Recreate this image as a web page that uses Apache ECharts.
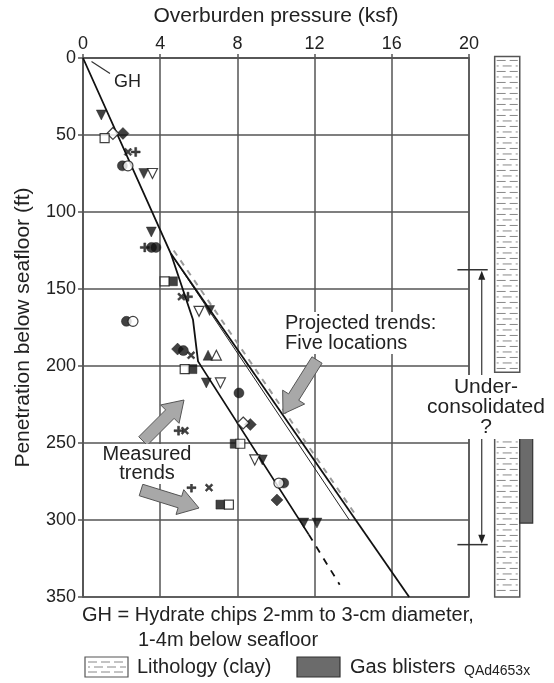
<!DOCTYPE html>
<html>
<head>
<meta charset="utf-8">
<title>Overburden pressure vs penetration</title>
<script src="https://cdn.jsdelivr.net/npm/echarts@6/dist/echarts.min.js"></script>
<style>
  html, body { margin: 0; padding: 0; background: #fff; }
  #chart { width: 554px; height: 683px; }
</style>
</head>
<body>
<div id="chart"></div>
<script>
// --- data (x = overburden pressure ksf, y = penetration ft) ---
const filledDownTri = [[0.95, 37], [3.15, 75], [3.54, 113], [6.56, 164], [6.39, 211], [9.29, 261], [11.44, 302], [12.12, 302]];
const openDownTri = [[3.6, 75], [6.01, 164.5], [7.12, 211], [8.9, 261]];
const filledUpTri = [[6.48, 193]];
const openUpTri = [[6.91, 193]];
const filledDiamond = [[2.07, 49], [4.9, 189], [8.67, 238], [10.05, 287]];
const openDiamond = [[1.55, 49], [8.3, 237]];
const filledSquare = [[4.66, 145], [5.67, 202], [7.86, 250.5], [7.12, 290]];
const openSquare = [[1.12, 52], [4.23, 145], [5.27, 202], [8.15, 250.5], [7.56, 290]];
const filledCircle = [[2.04, 70], [3.55, 123], [3.78, 123], [2.25, 171], [5.2, 190], [8.08, 217.5], [10.4, 276]];
const openCircle = [[2.33, 70], [2.59, 171], [10.15, 276]];
const plusMarks = [[2.73, 61], [3.2, 123], [5.44, 155], [4.95, 242], [5.62, 279]];
const crossMarks = [[2.33, 61], [5.1, 155], [5.6, 193], [5.28, 242], [6.53, 279]];

const measuredTrend = [[0, 0], [4.55, 127], [5.7, 170], [5.96, 197], [11.7, 309.5]];
const measuredExtension = [[11.7, 309.5], [13.3, 342]];
const projectedMain = [[4.55, 127], [16.9, 350]];
const projectedShort = [[4.55, 127], [13.8, 300]];
const projectedGray = [[4.7, 125], [14.2, 298]];

const lithologyIntervals = [[-1, 204], [236, 350]];
const gasBlisterIntervals = [[234.5, 302]];
const underConsolidated = [[137.5, 316]];

const pressureAxis = { min: 0, max: 20, interval: 4 };
const depthAxis = { min: 0, max: 350, interval: 50 };

// --- layout constants ---
const FONT = "'Liberation Sans', Arial, sans-serif";
const INK = '#222';
const GRID_C = '#555';
const LITH_X = [21.33, 22.63];
const GAS_X = [22.63, 23.3];
const BRACKET_X = [19.4, 20.97, 20.66];

const chart = echarts.init(document.getElementById('chart'));

const plusPath = 'path://M3.5,0H5.5V3.5H9V5.5H5.5V9H3.5V5.5H0V3.5H3.5Z';

function marks(data, symbol, filled, size, rotate) {
  return {
    type: 'scatter',
    data: data,
    symbol: symbol,
    symbolSize: size,
    symbolRotate: rotate || 0,
    z: 5,
    itemStyle: filled
      ? { color: '#111', borderColor: '#111', borderWidth: 0.5 }
      : { color: '#fff', borderColor: '#111', borderWidth: 1.2 }
  };
}

function trend(data, color, width, type) {
  return {
    type: 'line',
    data: data,
    showSymbol: false,
    symbol: 'none',
    z: 3,
    lineStyle: { color: color, width: width, type: type || 'solid' }
  };
}

function renderLithology(params, api) {
  const p0 = api.coord([LITH_X[0], api.value(0)]);
  const p1 = api.coord([LITH_X[1], api.value(1)]);
  const kids = [{
    type: 'rect',
    shape: { x: p0[0], y: p0[1], width: p1[0] - p0[0], height: p1[1] - p0[1] },
    style: { fill: '#fff', stroke: GRID_C, lineWidth: 1.5 }
  }];
  let i = 0;
  for (let y = p0[1] + 4; y < p1[1] - 2; y += 5.5, i++) {
    kids.push({
      type: 'line',
      shape: { x1: p0[0] + 2, y1: y, x2: p1[0] - 2, y2: y },
      style: { stroke: '#888', lineWidth: 1, lineDash: [9, 4], lineDashOffset: i % 2 ? 7 : 0 }
    });
  }
  return { type: 'group', children: kids };
}

function renderGas(params, api) {
  const p0 = api.coord([GAS_X[0], api.value(0)]);
  const p1 = api.coord([GAS_X[1], api.value(1)]);
  return {
    type: 'rect',
    shape: { x: p0[0], y: p0[1], width: p1[0] - p0[0], height: p1[1] - p0[1] },
    style: { fill: '#6b6b6b', stroke: '#333', lineWidth: 1.2 }
  };
}

function renderBracket(params, api) {
  const t = api.coord([BRACKET_X[0], api.value(0)]);
  const b = api.coord([BRACKET_X[1], api.value(1)]);
  const xa = api.coord([BRACKET_X[2], 0])[0];
  const st = { stroke: '#333', lineWidth: 1.5 };
  return {
    type: 'group',
    children: [
      { type: 'line', shape: { x1: t[0], y1: t[1], x2: b[0], y2: t[1] }, style: st },
      { type: 'line', shape: { x1: t[0], y1: b[1], x2: b[0], y2: b[1] }, style: st },
      { type: 'line', shape: { x1: xa, y1: t[1] + 6, x2: xa, y2: b[1] - 6 }, style: { stroke: '#333', lineWidth: 1.2 } },
      { type: 'polygon', shape: { points: [[xa, t[1] + 1], [xa - 3.5, t[1] + 10], [xa + 3.5, t[1] + 10]] }, style: { fill: '#222' } },
      { type: 'polygon', shape: { points: [[xa, b[1] - 1], [xa - 3.5, b[1] - 10], [xa + 3.5, b[1] - 10]] }, style: { fill: '#222' } }
    ]
  };
}

// gray block arrow from tail to tip (pixels)
function blockArrow(tail, tip) {
  const dx = tip[0] - tail[0], dy = tip[1] - tail[1];
  const len = Math.hypot(dx, dy);
  const ux = dx / len, uy = dy / len, nx = -uy, ny = ux;
  const sw = 6, hw = 13, hl = 20;
  const neck = [tip[0] - ux * hl, tip[1] - uy * hl];
  return {
    type: 'polygon',
    z: 50,
    shape: {
      points: [
        [tail[0] + nx * sw, tail[1] + ny * sw],
        [neck[0] + nx * sw, neck[1] + ny * sw],
        [neck[0] + nx * hw, neck[1] + ny * hw],
        tip,
        [neck[0] - nx * hw, neck[1] - ny * hw],
        [neck[0] - nx * sw, neck[1] - ny * sw],
        [tail[0] - nx * sw, tail[1] - ny * sw]
      ]
    },
    style: { fill: '#a8a8a8', stroke: '#555', lineWidth: 1 }
  };
}

function label(text, x, y, opts) {
  return {
    type: 'text',
    z: 100,
    x: x,
    y: y,
    style: Object.assign({
      text: text,
      font: '20px ' + FONT,
      fill: INK,
      align: 'left',
      verticalAlign: 'middle'
    }, opts || {})
  };
}

// legend lithology swatch
const swatch = { type: 'group', z: 100, children: [
  { type: 'rect', shape: { x: 85, y: 657, width: 43, height: 20 }, style: { fill: '#fff', stroke: GRID_C, lineWidth: 1.2 } },
  { type: 'line', shape: { x1: 88, y1: 662, x2: 126, y2: 662 }, style: { stroke: '#888', lineWidth: 1, lineDash: [9, 4] } },
  { type: 'line', shape: { x1: 88, y1: 667, x2: 126, y2: 667 }, style: { stroke: '#888', lineWidth: 1, lineDash: [9, 4], lineDashOffset: 7 } },
  { type: 'line', shape: { x1: 88, y1: 672, x2: 126, y2: 672 }, style: { stroke: '#888', lineWidth: 1, lineDash: [9, 4] } }
] };

const option = {
  animation: false,
  backgroundColor: '#fff',
  textStyle: { fontFamily: FONT },
  grid: { left: 83, top: 58, width: 386, height: 539, show: true, borderColor: GRID_C, borderWidth: 1.5 },
  xAxis: {
    type: 'value',
    position: 'top',
    min: pressureAxis.min, max: pressureAxis.max, interval: pressureAxis.interval,
    name: 'Overburden pressure (ksf)',
    nameLocation: 'middle',
    nameGap: 31,
    nameTextStyle: { fontSize: 21, color: INK, fontFamily: FONT },
    axisLine: { show: true, lineStyle: { color: GRID_C, width: 1.5 } },
    axisTick: { show: true, length: 4, lineStyle: { color: GRID_C, width: 1.5 } },
    axisLabel: { fontSize: 18, color: INK, margin: 5, fontFamily: FONT },
    splitLine: { show: true, lineStyle: { color: GRID_C, width: 1.5 } }
  },
  yAxis: {
    type: 'value',
    inverse: true,
    min: depthAxis.min, max: depthAxis.max, interval: depthAxis.interval,
    name: 'Penetration below seafloor (ft)',
    nameLocation: 'middle',
    nameRotate: 90,
    nameGap: 49,
    nameTextStyle: { fontSize: 21, color: INK, fontFamily: FONT },
    axisLine: { show: true, lineStyle: { color: GRID_C, width: 1.5 } },
    axisTick: { show: true, length: 5, lineStyle: { color: GRID_C, width: 1.5 } },
    axisLabel: { fontSize: 18, color: INK, margin: 7, fontFamily: FONT },
    splitLine: { show: true, lineStyle: { color: GRID_C, width: 1.5 } }
  },
  series: [
    { type: 'custom', clip: false, z: 2, silent: true, renderItem: renderLithology, data: lithologyIntervals },
    { type: 'custom', clip: false, z: 2, silent: true, renderItem: renderGas, data: gasBlisterIntervals },
    { type: 'custom', clip: false, z: 2, silent: true, renderItem: renderBracket, data: underConsolidated },
    trend(projectedGray, '#9a9a9a', 2, [6, 6]),
    trend(projectedShort, '#222', 1),
    trend(projectedMain, '#111', 1.8),
    trend(measuredTrend, '#111', 1.8),
    trend(measuredExtension, '#111', 1.8, [7, 7]),
    marks(filledDownTri, 'triangle', true, 10, 180),
    marks(openDownTri, 'triangle', false, 10, 180),
    marks(filledUpTri, 'triangle', true, 10, 0),
    marks(openUpTri, 'triangle', false, 10, 0),
    marks(filledDiamond, 'diamond', true, 12),
    marks(openDiamond, 'diamond', false, 12),
    marks(filledSquare, 'rect', true, 9),
    marks(openSquare, 'rect', false, 9),
    marks(filledCircle, 'circle', true, 10),
    marks(openCircle, 'circle', false, 10),
    marks(plusMarks, plusPath, true, 9),
    marks(crossMarks, plusPath, true, 9, 45)
  ],
  graphic: [
    { type: 'line', z: 100, shape: { x1: 91.5, y1: 61.5, x2: 110, y2: 73.5 }, style: { stroke: '#333', lineWidth: 1.2 } },
    label('GH', 114, 82, { font: '18px ' + FONT }),
    label('Projected trends:\nFive locations', 284, 333, { lineHeight: 20, backgroundColor: '#fff', padding: [1, 2, 1, 1] }),
    label('Measured\ntrends', 147, 464, { align: 'center', lineHeight: 19, backgroundColor: '#fff', padding: [1, 2, 1, 2] }),
    label('Under-\nconsolidated\n?', 486, 407, { align: 'center', font: '21px ' + FONT, lineHeight: 20, backgroundColor: '#fff', padding: [2, 1, 2, 1] }),
    blockArrow([317, 360], [283, 414]),
    blockArrow([143, 441], [184, 400]),
    blockArrow([141, 490], [199, 508]),
    label('GH = Hydrate chips 2-mm to 3-cm diameter,', 82, 615),
    label('1-4m below seafloor', 138, 640),
    swatch,
    label('Lithology (clay)', 137, 667),
    { type: 'rect', z: 100, shape: { x: 297, y: 657, width: 43, height: 20 }, style: { fill: '#6b6b6b', stroke: '#333', lineWidth: 1.2 } },
    label('Gas blisters', 350, 667),
    label('QAd4653x', 464, 671, { font: '14px ' + FONT })
  ]
};

chart.setOption(option);
</script>
</body>
</html>
